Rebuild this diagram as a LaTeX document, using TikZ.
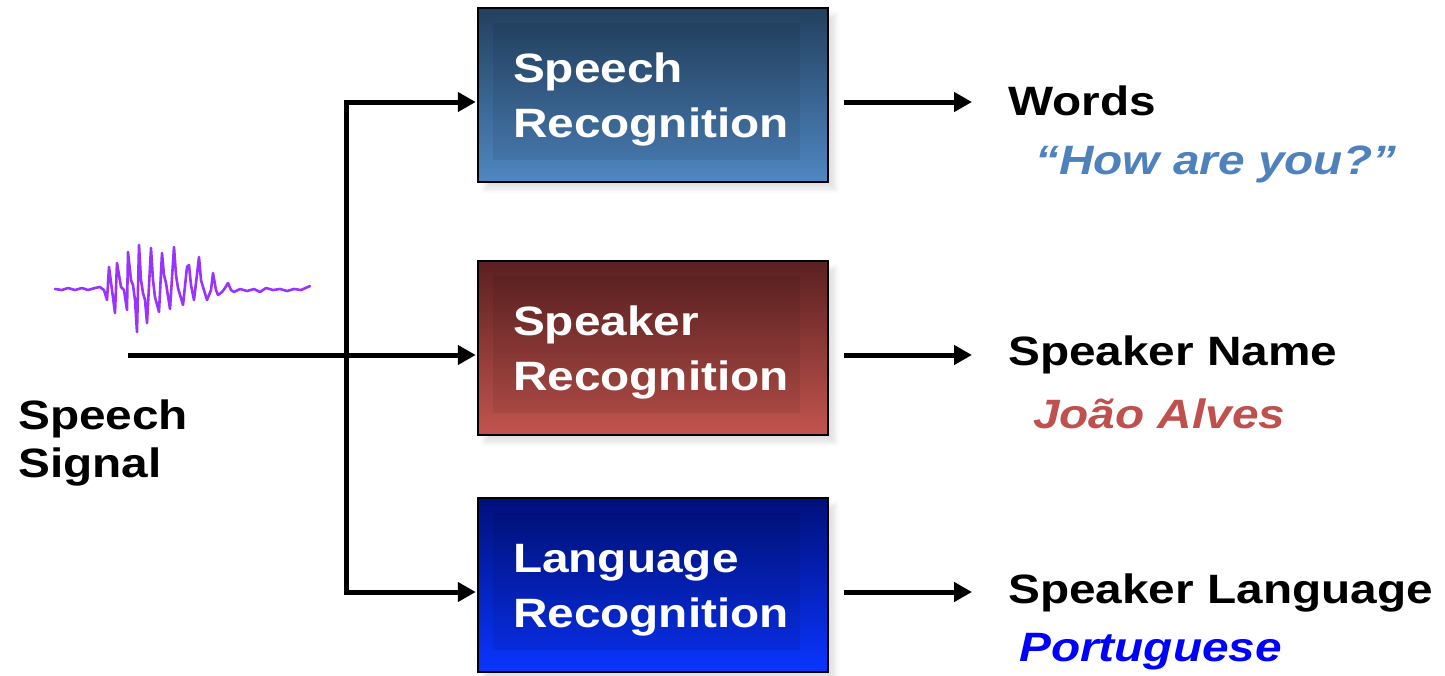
\documentclass[tikz,border=0pt]{standalone}
\usepackage{fontspec}
\setmainfont{Liberation Sans}[FakeStretch=1.165]
\usetikzlibrary{positioning, arrows.meta, shadows.blur, calc}

\definecolor{srtop}{HTML}{22405E}
\definecolor{srbot}{HTML}{4F87C2}
\definecolor{sptop}{HTML}{5A2020}
\definecolor{spbot}{HTML}{C2544E}
\definecolor{lgtop}{HTML}{00107A}
\definecolor{lgbot}{HTML}{0A35FF}
\definecolor{wavecol}{HTML}{9933FF}
\definecolor{wordcol}{HTML}{4F81BD}
\definecolor{namecol}{HTML}{C0504D}
\definecolor{langcol}{HTML}{0000FF}

\begin{document}
\begin{tikzpicture}[x=1pt, y=-1pt, font=\bfseries\fontsize{41}{55}\selectfont,
  flow/.style={line width=5pt, -{Triangle[length=18pt, width=19pt]}},
  rec box/.style 2 args={draw=black, line width=2.5pt, minimum width=350pt, minimum height=174pt,
    inner xsep=35pt, text width=280pt, align=left, text=white, top color=#1, bottom color=#2,
    blur shadow={shadow xshift=7pt, shadow yshift=-7pt, shadow blur radius=5pt, shadow opacity=12},
    path picture={\fill[black, opacity=0.07]
      ($(path picture bounding box.north west)+(15pt,-15pt)$) rectangle
      ($(path picture bounding box.south east)+(-28pt,22pt)$);}},
  out label/.style={anchor=base west, inner sep=0pt},
  out value/.style={anchor=base west, inner sep=0pt, font=\bfseries\itshape\fontsize{41}{55}\selectfont}]

  \useasboundingbox (0,0) rectangle (1445,675);

  % Define nodes
  \node[rec box={srtop}{srbot}] (sr) at (653,95) {\rule{0pt}{38pt}Speech\\Recognition};
  \node[rec box={sptop}{spbot}] (spk) at (653,348) {\rule{0pt}{38pt}Speaker\\Recognition};
  \node[rec box={lgtop}{lgbot}] (lng) at (653,585) {\rule{0pt}{38pt}Language\\Recognition};

  \node[anchor=north west, inner sep=0pt, align=left] (signal) at (18,400) {Speech\\[-7pt]Signal};

  \node[out label] (words) at (1008,115) {Words};
  \node[out value, text=wordcol] (howru) at (1035,174) {“How are you?”};
  \node[out label] (name) at (1008,365) {Speaker Name};
  \node[out value, text=namecol] (joao) at (1033,428) {João Alves};
  \node[out label] (lang) at (1008,603) {Speaker Language};
  \node[out value, text=langcol] (port) at (1019,661) {Portuguese};

  % Waveform
  \draw[wavecol, line width=2.6pt, line join=round, line cap=round] plot coordinates {
    (55,289) (62,290) (68,288) (75,290) (82,288) (88,290) (95,288) (100,287) (104,290)
    (107,300) (109,267) (112,290) (115,313) (117,263) (121,287) (124,290) (127,310)
    (128,252) (131,280) (133,285) (135,300) (137,332) (139,245) (141,280) (143,293)
    (145,300) (147,323) (151,248) (153,280) (155,297) (159,312) (162,253) (164,275)
    (166,283) (170,309) (174,247) (176,275) (178,288) (183,305) (187,267) (189,265)
    (191,285) (194,300) (199,257) (201,280) (203,287) (207,300) (211,290) (213,273)
    (216,290) (218,295) (222,292) (225,288) (228,283) (231,290) (234,292) (240,289)
    (247,291) (254,289) (260,292) (266,288) (273,290) (280,289) (287,291) (294,289)
    (301,290) (310,286)};

  % Input and branches
  \coordinate (sig) at (128,355);
  \coordinate (fork) at (346,355);
  \draw[flow, shorten >=1pt] (sig) -- (spk.west |- sig);
  \draw[flow, shorten >=1pt] (fork) |- ([yshift=-7pt]sr.west);
  \draw[flow, shorten >=1pt] (fork) |- ([yshift=-7pt]lng.west);

  % Outputs
  \draw[flow, shorten <=15pt, shorten >=36pt] ([yshift=-7pt]sr.east) -- ([yshift=-7pt]sr.east -| words.west);
  \draw[flow, shorten <=15pt, shorten >=36pt] ([yshift=-7pt]spk.east) -- ([yshift=-7pt]spk.east -| name.west);
  \draw[flow, shorten <=15pt, shorten >=36pt] ([yshift=-7pt]lng.east) -- ([yshift=-7pt]lng.east -| lang.west);
\end{tikzpicture}
\end{document}
